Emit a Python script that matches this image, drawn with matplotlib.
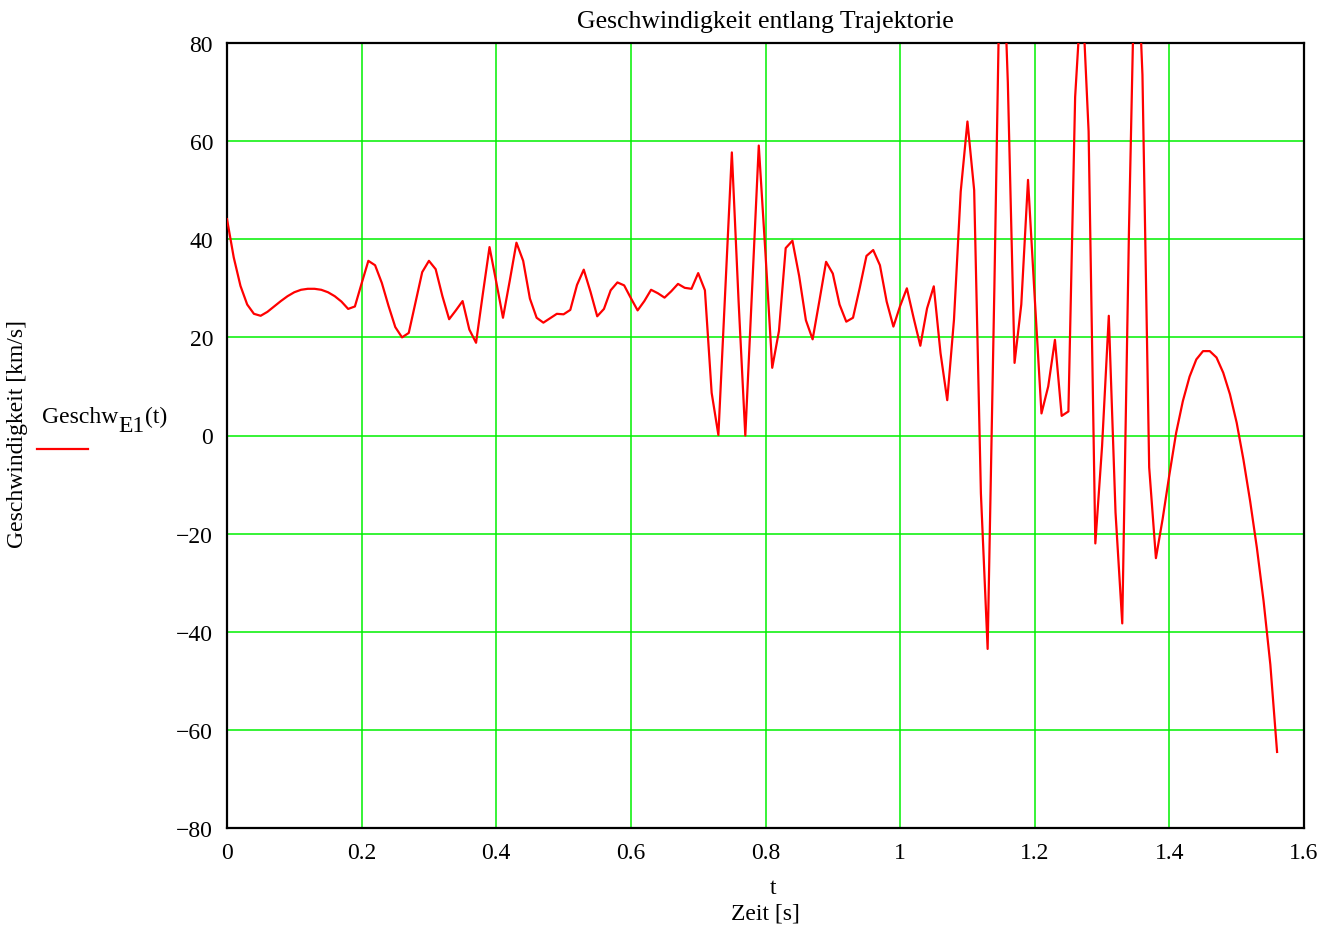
import numpy as np
import matplotlib
matplotlib.use("Agg")
import matplotlib.pyplot as plt

plt.rcParams["font.family"] = ["Liberation Serif", "DejaVu Serif"]

geschw = [
    44.1, 36.3, 30.5, 26.7, 24.8, 24.4, 25.2, 26.3, 27.4, 28.4,
    29.2, 29.7, 29.9, 29.9, 29.7, 29.2, 28.4, 27.3, 25.8, 26.3,
    31.0, 35.6, 34.7, 31.1, 26.4, 22.1, 20.0, 20.9, 27.1, 33.3,
    35.6, 33.9, 28.4, 23.7, 25.5, 27.4, 21.6, 18.9, 28.8, 38.4,
    31.3, 24.0, 31.5, 39.3, 35.6, 27.9, 24.0, 23.0, 23.9, 24.8,
    24.7, 25.6, 30.7, 33.8, 29.3, 24.3, 25.8, 29.6, 31.2, 30.6,
    28.0, 25.5, 27.4, 29.7, 29.0, 28.1, 29.4, 30.9, 30.1, 29.9,
    33.1, 29.6, 8.7, 0.1, 28.9, 57.7, 27.4, 0.0, 29.4, 59.1,
    37.0, 13.8, 21.3, 38.2, 39.7, 32.5, 23.5, 19.6, 27.4, 35.4,
    33.0, 26.7, 23.2, 24.0, 30.1, 36.6, 37.8, 34.7, 27.3, 22.2,
    26.4, 30.0, 24.0, 18.3, 25.9, 30.4, 16.8, 7.2, 23.6, 49.7,
    64.0, 50.0, -11.8, -43.5, 30.0, 111.0, 72.0, 14.8, 26.7, 52.1,
    28.0, 4.5, 10.0, 19.5, 4.0, 4.9, 69.0, 92.0, 62.0, -22.0,
    -2.2, 24.4, -15.7, -38.3, 42.0, 107.5, 73.5, -6.5, -25.0, -17.0,
    -8.0, 0.5, 7.0, 12.0, 15.5, 17.2, 17.2, 15.9, 12.8, 8.4,
    2.6, -4.9, -13.4, -22.9, -33.8, -46.7, -64.5,
]
t_end = 1.56
t = np.linspace(0, t_end, len(geschw))

x_ticks = [0, 0.2, 0.4, 0.6, 0.8, 1, 1.2, 1.4, 1.6]
x_labels = ["0", "0.2", "0.4", "0.6", "0.8", "1", "1.2", "1.4", "1.6"]
y_ticks = [-80, -60, -40, -20, 0, 20, 40, 60, 80]

W, H = 1342, 929
fig = plt.figure(figsize=(W / 100, H / 100), dpi=100)
ax = fig.add_axes([227 / W, 1 - 829 / H, (1304 - 227) / W, (829 - 44) / H])

ax.plot(t, geschw, color="#ff0000", lw=1.6, zorder=3)
ax.set_xlim(0, 1.6)
ax.set_ylim(-80, 80)
ax.set_xticks(x_ticks)
ax.set_xticklabels(x_labels)
ax.set_yticks(y_ticks)
ax.grid(True, color="#00f000", lw=1.1)
ax.set_axisbelow(True)
ax.tick_params(length=0, labelsize=17)
ax.tick_params(axis="x", pad=10)
ax.tick_params(axis="y", pad=10)
for s in ax.spines.values():
    s.set_linewidth(1.6)
    s.set_color("black")

fig.text(765 / W, 1 - 22 / H, "Geschwindigkeit entlang Trajektorie",
         ha="center", va="center", fontsize=18.5)
fig.text(18 / W, 1 - 434 / H, "Geschwindigkeit [km/s]", rotation=90,
         ha="center", va="center", fontsize=17)
fig.text(773 / W, 1 - 889 / H, "t", ha="center", va="center", fontsize=17)
fig.text(765 / W, 1 - 914 / H, "Zeit [s]", ha="center", va="center", fontsize=17)

# legend-like label: Geschw with E1 subscript, then (t)
renderer = fig.canvas.get_renderer()
x0 = 42
parts = [("Geschw", 423), ("E1", 432), ("(t)", 423)]
for txt, base in parts:
    tx = fig.text(x0 / W, 1 - base / H, txt, ha="left", va="baseline", fontsize=17)
    x0 += tx.get_window_extent(renderer).width
fig.add_artist(plt.Line2D([37 / W, 88 / W], [1 - 450 / H, 1 - 450 / H],
                          color="#ff0000", lw=1.6))

fig.savefig("out.png", dpi=100)
